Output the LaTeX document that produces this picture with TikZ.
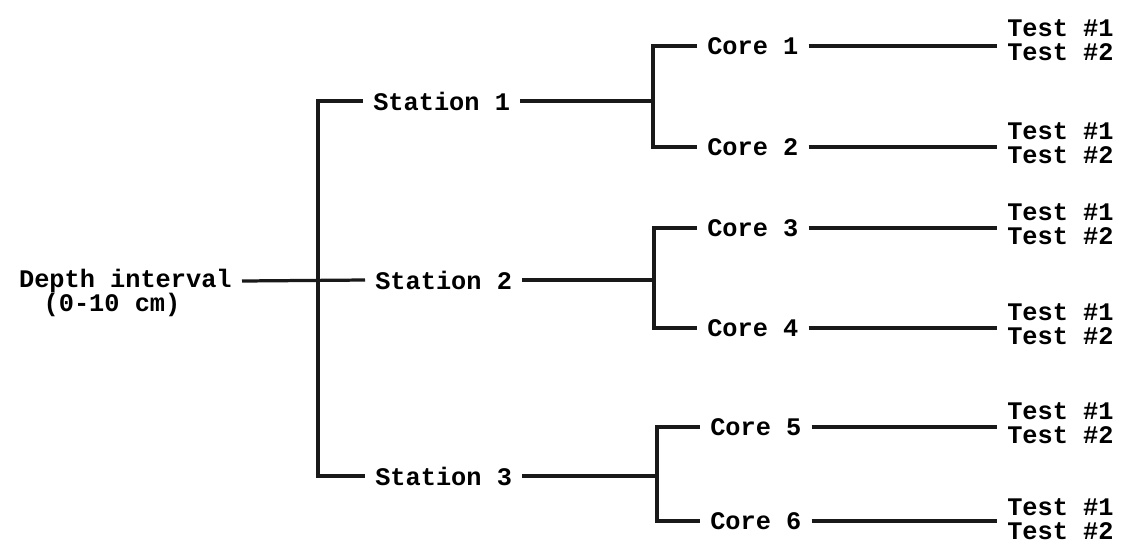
\documentclass[tikz,border=0pt]{standalone}
\usepackage{fontspec}
\setmonofont{Liberation Mono}

\begin{document}
\begin{tikzpicture}[
        x=0.025cm, y=-0.025cm,
        lbl/.style={
            inner xsep=0.25cm,
            inner ysep=0pt,
            font=\ttfamily\bfseries\fontsize{18}{17.5}\selectfont
        },
        tests/.style={lbl, align=left, anchor=west},
        link/.style={line width=2.3pt, draw=black!90}
    ]

    \useasboundingbox (0,0) rectangle (1125,548);

    \node[lbl, anchor=east] (depth) at (242, 281) {Depth interval};
    \node[lbl] (range) at (112, 305) {(0-10 cm)};

    \node[lbl, anchor=west] (s1) at (363, 101) {Station 1};
    \node[lbl, anchor=west] (s2) at (365, 280) {Station 2};
    \node[lbl, anchor=west] (s3) at (365, 476) {Station 3};

    \node[lbl, anchor=west] (c1) at (697, 46)  {Core 1};
    \node[lbl, anchor=west] (c2) at (697, 147) {Core 2};
    \node[lbl, anchor=west] (c3) at (697, 228) {Core 3};
    \node[lbl, anchor=west] (c4) at (697, 328) {Core 4};
    \node[lbl, anchor=west] (c5) at (700, 427) {Core 5};
    \node[lbl, anchor=west] (c6) at (700, 521) {Core 6};

    \node[tests] (t1) at (997, 40)  {Test \#1\\Test \#2};
    \node[tests] (t2) at (997, 143) {Test \#1\\Test \#2};
    \node[tests] (t3) at (997, 224) {Test \#1\\Test \#2};
    \node[tests] (t4) at (997, 324) {Test \#1\\Test \#2};
    \node[tests] (t5) at (997, 423) {Test \#1\\Test \#2};
    \node[tests] (t6) at (997, 519) {Test \#1\\Test \#2};

    \coordinate (trunk) at (318, 280);

    \draw[link] (depth.east) -- (s2.west);
    \draw[link] (s1.west) -| (trunk) |- (s3.west);

    \draw[link] (s1.east) -- (653, 101);
    \draw[link] (c1.west) -| (653, 101) |- (c2.west);
    \draw[link] (s2.east) -- (654, 280);
    \draw[link] (c3.west) -| (654, 280) |- (c4.west);
    \draw[link] (s3.east) -- (657, 476);
    \draw[link] (c5.west) -| (657, 476) |- (c6.west);

    \draw[link] (c1.east) -- (c1.east -| t1.west);
    \draw[link] (c2.east) -- (c2.east -| t2.west);
    \draw[link] (c3.east) -- (c3.east -| t3.west);
    \draw[link] (c4.east) -- (c4.east -| t4.west);
    \draw[link] (c5.east) -- (c5.east -| t5.west);
    \draw[link] (c6.east) -- (c6.east -| t6.west);

    \end{tikzpicture}
\end{document}
